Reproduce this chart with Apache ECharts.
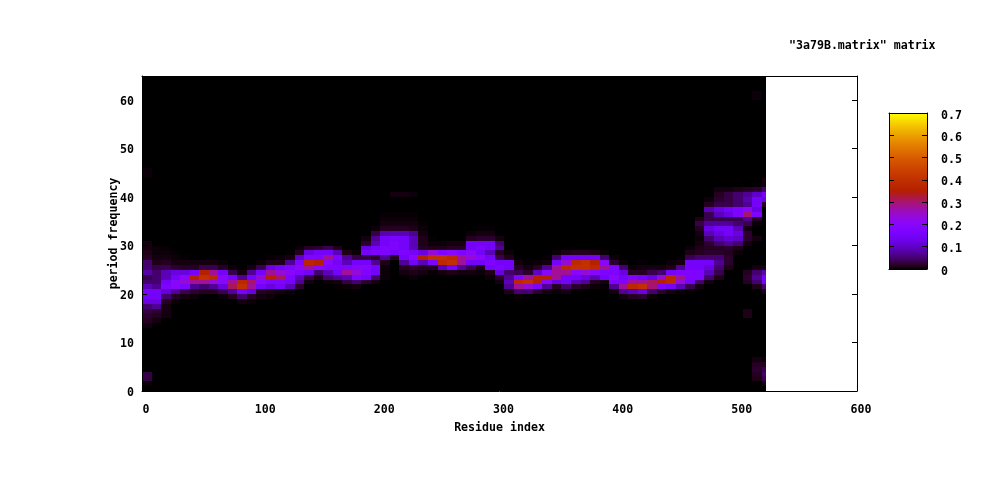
<!DOCTYPE html>
<html>
<head>
<meta charset="utf-8">
<title>3a79B matrix</title>
<style>
html,body{margin:0;padding:0;background:#fff}
#chart{width:1000px;height:480px}
</style>
<script src="https://cdn.jsdelivr.net/npm/echarts@6/dist/echarts.min.js"></script>
</head>
<body>
<div id="chart"></div>
<script>
var chartTitle = '"3a79B.matrix" matrix';
var xTitle = 'Residue index';
var yTitle = 'period frequency';

// each column is 8 residues wide: [first row, value at that row, next row up, ...]
var columnsA = [
	[13, .007,.015,.02,.03,.05,.12,.15,.15,.09,.05,.035,.08,.05,.05,.015,.01,.007,.007],
	[14, .007,.015,.02,.07,.12,.15,.15,.07,.05,.05,.05,.03,.01,.007,.004,.004],
	[15, .007,.007,.007,.015,.05,.11,.17,.15,.09,.09,.035,.015,.007,.004,.002],
	[18, .004,.015,.07,.2,.2,.15,.12,.02,.007,.004,.002],
	[19, .007,.035,.17,.24,.2,.12,.015,.007,.002],
	[19, .004,.02,.07,.28,.35,.15,.015,.007],
	[20, .015,.05,.28,.4,.35,.035,.007],
	[20, .015,.07,.24,.38,.28,.035,.007],
	[19, .004,.035,.12,.2,.2,.15,.015,.004],
	[19, .015,.07,.31,.28,.15,.035,.004],
	[18, .007,.05,.15,.4,.37,.07,.007],
	[18, .004,.015,.12,.28,.3,.15,.07,.007],
	[19, .007,.015,.15,.2,.24,.15,.035,.004],
	[19, .004,.01,.12,.17,.35,.28,.12,.01,.002],
	[20, .007,.15,.17,.31,.24,.15,.01,.004],
	[20, .004,.09,.15,.17,.2,.17,.07,.007,.002],
	[21, .02,.07,.09,.17,.21,.17,.1,.015,.004],
	[22, .007,.03,.15,.28,.37,.17,.12,.015],
	[23, .01,.05,.2,.35,.17,.15,.02],
	[22, .004,.05,.09,.17,.2,.28,.15,.035],
	[21, .002,.007,.07,.15,.17,.15,.17,.09,.01],
	[21, .004,.03,.09,.28,.17,.09,.07,.01]
];
var columnsB = [
	[21, .007,.05,.17,.24,.19,.15,.03,.004],
	[22, .02,.15,.17,.19,.15,.03,.15,.12,.02,.007],
	[22, .007,.05,.15,.15,.07,.02,.17,.15,.09,.07,.03,.004],
	[23, .004,.004,.004,.01,.07,.17,.17,.15,.15,.085,.015,.007,.004,.002],
	[27, .015,.15,.17,.17,.16,.09,.015,.007,.004,.002,0,0,0,.007],
	[24, .007,.015,.07,.15,.17,.15,.15,.15,.09,.015,.007,.004,.002,0,0,0,.007],
	[23, .004,.01,.02,.15,.2,.15,.09,.09,.09,.07,.01,.007,.004,.002,0,0,0,.004],
	[24, .007,.015,.09,.35,.12,.015,.01,.01,.007,.004,.002],
	[24, .002,.015,.17,.4,.24,.01,.004,.002],
	[24, .007,.09,.38,.4,.17,.01,.004],
	[24, .01,.15,.4,.38,.2,.015,.007],
	[24, .007,.07,.28,.28,.17,.015,.007],
	[24, .007,.035,.15,.24,.2,.15,.15,.015,.004],
	[24, .004,.01,.15,.2,.15,.17,.15,.02,.007,.002],
	[23, .004,.01,.15,.17,.15,.09,.15,.15,.02,.007,.002],
	[22, .007,.02,.12,.17,.15,.035,.015,.07,.05,.007],
	[20, .01,.07,.09,.07,.05,.15,.15,.01,.004],
	[19, .004,.05,.28,.38,.17,.035,.015,.007],
	[19, .002,.05,.24,.4,.28,.02,.007,.002],
	[20, .02,.17,.35,.35,.1,.015,.004],
	[20, .007,.07,.2,.35,.2,.07,.007,.002],
	[20, .004,.015,.12,.28,.28,.28,.15,.05,.004]
];
var columnsC = [
	[20, .007,.05,.15,.15,.28,.38,.24,.15,.01],
	[21, .02,.09,.15,.2,.4,.38,.15,.015],
	[21, .01,.07,.12,.24,.4,.4,.15,.015],
	[21, .004,.015,.09,.2,.38,.35,.15,.01],
	[21, .002,.007,.15,.17,.28,.2,.05,.004],
	[20, .007,.07,.17,.2,.17,.17,.02,.004],
	[19, .007,.07,.28,.17,.15,.12,.05,.004],
	[19, .015,.09,.38,.28,.17,.015,.004],
	[19, .02,.12,.4,.28,.15,.015,.007,.002],
	[19, .004,.05,.3,.31,.12,.035,.007],
	[20, .02,.17,.35,.24,.05,.007],
	[20, .007,.15,.38,.38,.15,.01,.004],
	[20, .004,.09,.24,.28,.17,.07,.007,.002],
	[20, .002,.035,.15,.17,.17,.15,.15,.035,.01,.004],
	[21, .007,.05,.17,.17,.15,.15,.05,.015,.01,.007,.004,.007,.015,.035,.01],
	[22, .007,.05,.09,.12,.15,.05,.02,.015,.02,.05,.09,.12,.07,.035,.035,.085,.015,.004],
	[23, .01,.035,.05,.07,.05,.02,.015,.05,.09,.12,.15,.07,.035,.09,.12,.035,.02,.015,.007],
	[25, .01,.02,.02,.015,.02,.07,.11,.15,.15,.07,.035,.12,.15,.035,.03,.03,.007],
	[28, .004,.01,.05,.1,.12,.09,.05,.035,.17,.17,.05,.05,.05,.01],
	[22, .015,.02,.015,0,0,0,0,.002,.007,.02,.02,.007,.035,.07,.3,.2,.07,.085,.07,.015],
	[21, .01,.05,.07,.05,.007,0,0,0,0,0,.007,0,0,.004,.015,.17,.12,.15,.15,.1,.02,.002],
	[20, .01,.05,.15,.15,.09,.007,0,0,0,0,0,0,0,0,0,0,0,0,.015,.12,.15,.05,.004,.007]
];
// isolated faint cells away from the band: [residue, row, value]
var extraCells = [
	[0, 1, .004], [0, 2, .03], [0, 3, .03], [0, 44, .004], [0, 45, .004],
	[504, 15, .01], [504, 16, .01],
	[512, 2, .01], [512, 3, .015], [512, 4, .02], [512, 5, .015], [512, 6, .007],
	[520, 1, .007], [520, 2, .035], [520, 3, .05], [520, 4, .035], [520, 5, .015], [520, 6, .004],
	[512, 60, .004], [512, 61, .004]
];

var columnWidth = 8;
var lastResidue = 524;
var rowCount = 65;
var colorMax = .7;

// gnuplot's default pm3d palette (rgbformulae 7,5,15)
function paletteAt(x){
	var r = Math.sqrt(x);
	var g = x * x * x;
	var b = Math.max(0, Math.sin(2 * Math.PI * x));
	return 'rgb(' + Math.round(r * 255) + ',' + Math.round(g * 255) + ',' + Math.round(b * 255) + ')';
}
var paletteColors = [];
for(var p = 0; p <= 70; p++){
	paletteColors.push(paletteAt(p / 70));
}

var columns = columnsA.concat(columnsB, columnsC);
var grid = {};
columns.forEach(function(col, i){
	for(var j = 1; j < col.length; j++){
		grid[i * columnWidth + '_' + (col[0] + j - 1)] = col[j];
	}
});
extraCells.forEach(function(c){
	grid[c[0] + '_' + c[1]] = c[2];
});

var cells = [];
for(var i = 0; i < columns.length; i++){
	for(var r = 0; r < rowCount; r++){
		var res = i * columnWidth;
		cells.push([res, r, grid[res + '_' + r] || 0]);
	}
}

function renderCell(params, api){
	var res = api.value(0);
	var row = api.value(1);
	var a = api.coord([res, row]);
	var b = api.coord([Math.min(res + columnWidth, lastResidue), row + 1]);
	var x0 = Math.round(a[0]), x1 = Math.round(b[0]);
	var y0 = Math.round(a[1]), y1 = Math.round(b[1]);
	return {
		type: 'rect',
		shape: {x: x0, y: y1, width: x1 - x0, height: y0 - y1},
		style: {fill: api.visual('color')}
	};
}

var font = {
	fontFamily: '"DejaVu Sans Mono", monospace',
	fontWeight: 'bold',
	fontSize: 11.6,
	color: '#000'
};
var blackLine = {show: true, onZero: false, lineStyle: {color: '#000', width: 1}};
var innerTick = {show: true, inside: true, length: 5, lineStyle: {color: '#000', width: 1}};

var barStops = paletteColors.map(function(c, i){
	return {offset: 1 - i / (paletteColors.length - 1), color: c};
});

var option = {
	animation: false,
	backgroundColor: '#fff',
	title: {
		text: chartTitle,
		left: 784,
		top: 35,
		textStyle: font
	},
	grid: [
		{left: 142, top: 76, width: 715, height: 315},
		{left: 889, top: 113, width: 38, height: 156}
	],
	xAxis: [
		{
			type: 'value', gridIndex: 0, min: 0, max: 600, interval: 100, z: 10,
			name: xTitle, nameLocation: 'middle', nameGap: 31, nameTextStyle: font,
			axisLine: blackLine, axisTick: innerTick, splitLine: {show: false},
			axisLabel: Object.assign({margin: 13, padding: [0, 0, 0, 8]}, font)
		},
		{
			type: 'value', gridIndex: 0, position: 'top', min: 0, max: 600, interval: 100, z: 10,
			axisLine: blackLine, axisTick: {show: false}, axisLabel: {show: false}, splitLine: {show: false}
		},
		{
			type: 'category', gridIndex: 1, data: [''], z: 10,
			axisLine: blackLine, axisTick: {show: false}, axisLabel: {show: false}
		},
		{
			type: 'category', gridIndex: 1, position: 'top', data: [''], z: 10,
			axisLine: blackLine, axisTick: {show: false}, axisLabel: {show: false}
		}
	],
	yAxis: [
		{
			type: 'value', gridIndex: 0, min: 0, max: 65, interval: 10, z: 10,
			name: yTitle, nameLocation: 'middle', nameGap: 22, nameMoveOverlap: false, nameTextStyle: font,
			axisLine: blackLine, axisTick: innerTick, splitLine: {show: false},
			axisLabel: Object.assign({margin: 8, showMaxLabel: false, verticalAlign: 'top', lineHeight: 3}, font)
		},
		{
			type: 'value', gridIndex: 0, position: 'right', min: 0, max: 65, interval: 10, z: 10,
			axisLine: blackLine, axisTick: innerTick, axisLabel: {show: false}, splitLine: {show: false}
		},
		{
			type: 'value', gridIndex: 1, position: 'right', min: 0, max: colorMax, interval: .1, z: 10,
			axisLine: blackLine, axisTick: innerTick, splitLine: {show: false},
			axisLabel: Object.assign({
				margin: 14,
				verticalAlign: 'top',
				lineHeight: 5,
				formatter: function(v){ return String(Math.round(v * 10) / 10); }
			}, font)
		},
		{
			type: 'value', gridIndex: 1, position: 'left', min: 0, max: colorMax, interval: .1, z: 10,
			axisLine: blackLine, axisTick: innerTick, axisLabel: {show: false}, splitLine: {show: false}
		}
	],
	visualMap: {
		show: false,
		type: 'continuous',
		seriesIndex: 0,
		dimension: 2,
		min: 0,
		max: colorMax,
		inRange: {color: paletteColors}
	},
	series: [
		{
			type: 'custom',
			xAxisIndex: 0,
			yAxisIndex: 0,
			data: cells,
			encode: {x: 0, y: 1},
			progressive: 0,
			silent: true,
			renderItem: renderCell
		},
		{
			type: 'bar',
			xAxisIndex: 2,
			yAxisIndex: 2,
			data: [colorMax],
			barWidth: '100%',
			silent: true,
			itemStyle: {
				color: new echarts.graphic.LinearGradient(0, 0, 0, 1, barStops)
			}
		}
	]
};

var ins = echarts.init(document.getElementById('chart'), null, {renderer: 'canvas'});
ins.setOption(option);
</script>
</body>
</html>
